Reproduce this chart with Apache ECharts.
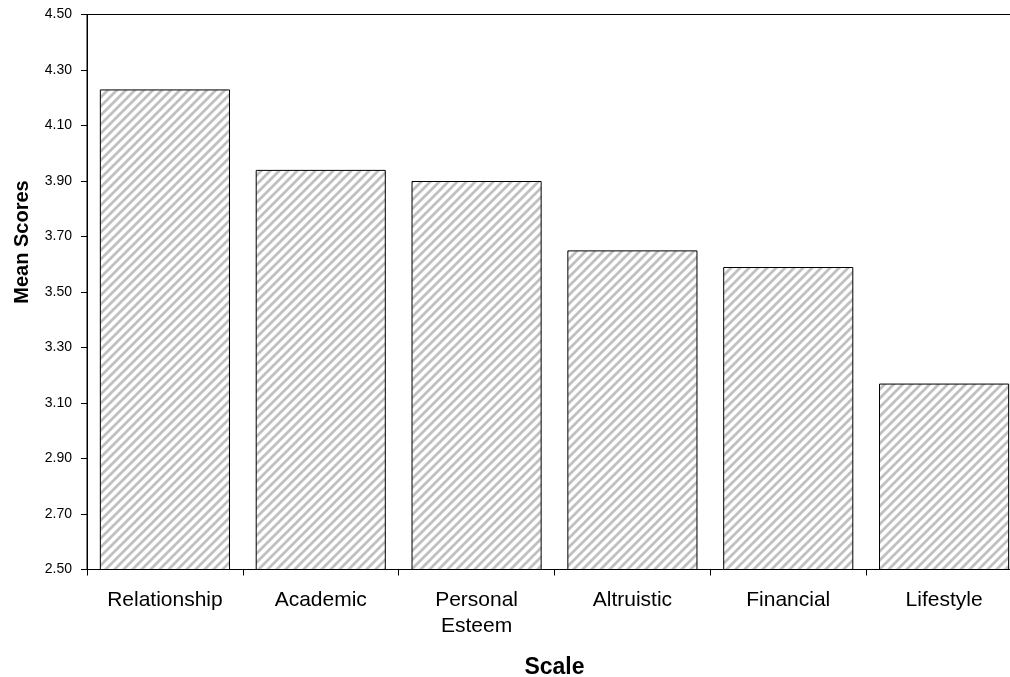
<!DOCTYPE html>
<html lang="en">
<head>
  <meta charset="UTF-8">
  <title>Mean Scores by Scale</title>
  <script src="https://cdn.jsdelivr.net/npm/echarts@6/dist/echarts.min.js"></script>
  <style>
    html, body { margin: 0; padding: 0; background: #fff; overflow: hidden; }
  </style>
</head>
<body>
<div id="main" style="width:1010px;height:677px"></div>
<script>
  var scales = ['Relationship', 'Academic', 'Personal\nEsteem', 'Altruistic', 'Financial', 'Lifestyle'];
  var meanScores = [4.23, 3.94, 3.90, 3.65, 3.59, 3.17];

  // grey diagonal hatch, like the printed fill
  function hatch(){
    var c = document.createElement('canvas');
    var s = 9;
    c.width = s; c.height = s;
    var ctx = c.getContext('2d');
    ctx.fillStyle = '#fff';
    ctx.fillRect(0, 0, s, s);
    ctx.strokeStyle = '#c0c0c0';
    ctx.lineWidth = 2.8;
    ctx.beginPath();
    ctx.moveTo(-s, s); ctx.lineTo(s, -s);
    ctx.moveTo(0, s); ctx.lineTo(s, 0);
    ctx.moveTo(0, 2 * s); ctx.lineTo(2 * s, 0);
    ctx.stroke();
    return c;
  }

  var font = '"Liberation Sans", Arial, sans-serif';
  var main = echarts.init(document.querySelector('#main'));

  main.setOption({
    animation: false,
    // plot area runs past the right edge of the picture, as in the source
    grid: {
      left: 87, top: 14.5, width: 935, height: 555,
      outerBoundsMode: 'none',
      show: true, borderColor: '#000', borderWidth: 1, backgroundColor: 'transparent'
    },
    graphic: [{
      type: 'text',
      x: 22, y: 242,
      rotation: Math.PI / 2,
      style: {
        text: 'Mean Scores',
        font: 'bold 20px ' + font,
        fill: '#000',
        textAlign: 'center',
        textVerticalAlign: 'middle'
      }
    }],
    xAxis: {
      type: 'category',
      data: scales,
      name: 'Scale',
      nameLocation: 'middle',
      nameGap: 87,
      nameTextStyle: {fontFamily: font, fontSize: 23, fontWeight: 'bold', color: '#000'},
      axisLine: {lineStyle: {color: '#000', width: 1}},
      axisTick: {show: true, length: 6, lineStyle: {color: '#000'}},
      axisLabel: {
        fontFamily: font, fontSize: 21, color: '#000',
        margin: 18, lineHeight: 26, interval: 0
      },
      splitLine: {show: false}
    },
    yAxis: {
      type: 'value',
      min: 2.5, max: 4.5, interval: 0.2,
      axisLine: {show: true, lineStyle: {color: '#000', width: 1}},
      axisTick: {show: true, length: 6, lineStyle: {color: '#000'}},
      axisLabel: {
        fontFamily: font, fontSize: 14, color: '#000', margin: 15,
        formatter: function(v){ return v.toFixed(2); }
      },
      splitLine: {show: false}
    },
    series: [{
      type: 'bar',
      data: meanScores,
      barWidth: '83.5%',
      itemStyle: {
        color: {image: hatch(), repeat: 'repeat'},
        borderColor: '#000',
        borderWidth: 1
      }
    }]
  });
</script>
</body>
</html>
